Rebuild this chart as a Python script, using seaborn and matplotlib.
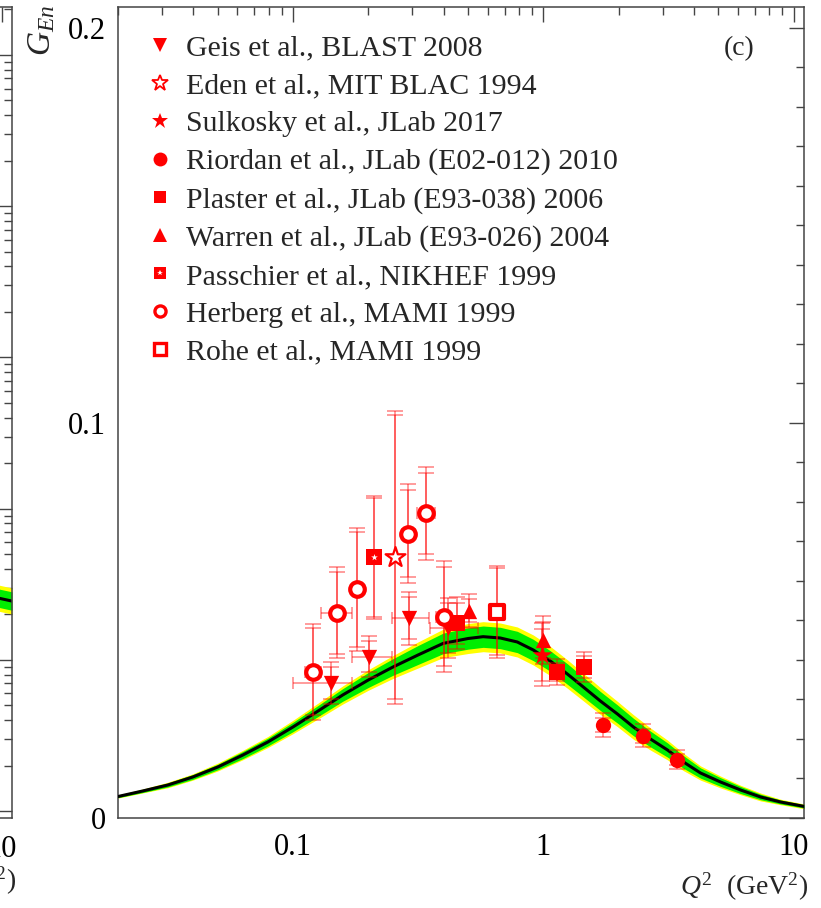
import numpy as np
import pandas as pd
import matplotlib
matplotlib.use("Agg")
import matplotlib.pyplot as plt
import seaborn as sns
from matplotlib.lines import Line2D
from matplotlib.ticker import FixedLocator, NullFormatter, FixedFormatter, LogLocator

# ---------------- data ----------------
curve_q2 = [0.02, 0.0251, 0.0316, 0.0398, 0.0501, 0.0631, 0.0794, 0.100, 0.126, 0.158,
            0.200, 0.251, 0.316, 0.398, 0.501, 0.575, 0.673, 0.787, 0.912, 1.066,
            1.247, 1.445, 1.690, 1.977, 2.291, 2.679, 3.133, 3.631, 4.246, 5.105,
            6.138, 7.379, 8.872, 11.07]
curve_g = [0.00544, 0.00684, 0.00835, 0.01038, 0.01291, 0.01595, 0.01924, 0.02304, 0.02709, 0.03114,
           0.03494, 0.03823, 0.04127, 0.04420, 0.04544, 0.04590, 0.04557, 0.04456, 0.04253, 0.03975,
           0.03646, 0.03316, 0.02962, 0.02633, 0.02304, 0.02000, 0.01722, 0.01418, 0.01139, 0.00911,
           0.00709, 0.00532, 0.00405, 0.00291]
green_hw = [0.0003, 0.0004, 0.0005, 0.0006, 0.0007, 0.0009, 0.0010, 0.0012, 0.0014, 0.0016,
            0.0019, 0.0021, 0.0024, 0.0026, 0.0027, 0.0027, 0.0027, 0.0027, 0.0027, 0.0026,
            0.0026, 0.0025, 0.0024, 0.0023, 0.0022, 0.0020, 0.0018, 0.0016, 0.0013, 0.0011,
            0.0009, 0.0007, 0.0005, 0.0004]
yellow_hw = [0.0004, 0.0005, 0.0007, 0.0008, 0.0010, 0.0012, 0.0014, 0.0017, 0.0020, 0.0023,
             0.0026, 0.0029, 0.0033, 0.0036, 0.0038, 0.0038, 0.0038, 0.0038, 0.0038, 0.0037,
             0.0036, 0.0035, 0.0034, 0.0032, 0.0031, 0.0028, 0.0025, 0.0022, 0.0018, 0.0015,
             0.0012, 0.0010, 0.0007, 0.0006]

geis_q2 = [0.142, 0.202, 0.292, 0.418]
geis_g = [0.0341, 0.0408, 0.0506, 0.0480]
geis_tot = [0.0053, 0.0052, 0.0067, 0.0076]
geis_stat = [0.0040, 0.0039, 0.0054, 0.0063]
geis_qlo = [0.100, 0.172, 0.248, 0.353]
geis_qhi = [0.172, 0.248, 0.348, 0.550]

eden_q2 = [0.256]
eden_g = [0.0660]
eden_tot = [0.0371]
eden_stat = [0.0360]

sulk_q2 = [0.985]
sulk_g = [0.0413]
sulk_tot = [0.0080]
sulk_stat = [0.0065]

riordan_q2 = [1.73, 2.50, 3.43]
riordan_g = [0.0235, 0.0208, 0.0147]
riordan_tot = [0.0030, 0.0029, 0.0024]
riordan_stat = [0.0018, 0.0017, 0.0014]

plaster_q2 = [0.452, 1.13, 1.45]
plaster_g = [0.0493, 0.0370, 0.0383]
plaster_tot = [0.0066, 0.0033, 0.0038]
plaster_stat = [0.0052, 0.0022, 0.0028]

warren_q2 = [0.503, 1.00]
warren_g = [0.0525, 0.0451]
warren_tot = [0.0042, 0.0060]
warren_stat = [0.0030, 0.0045]

passchier_q2 = [0.211]
passchier_g = [0.0660]
passchier_tot = [0.0155]
passchier_stat = [0.0150]

herberg_q2 = [0.120, 0.150, 0.181, 0.289, 0.340, 0.400]
herberg_g = [0.0370, 0.0520, 0.0579, 0.0720, 0.0771, 0.0510]
herberg_tot = [0.0121, 0.0115, 0.0155, 0.0125, 0.0117, 0.0140]
herberg_stat = [0.0110, 0.0104, 0.0146, 0.0110, 0.0102, 0.0125]
herberg_qlo = [0.1117, 0.130, 0.181, 0.272, 0.312, 0.373]
herberg_qhi = [0.129, 0.172, 0.181, 0.307, 0.370, 0.420]

rohe_q2 = [0.653]
rohe_g = [0.0522]
rohe_tot = [0.0117]
rohe_stat = [0.0110]

# neighbouring (cropped) panel on the left
left_q2 = [8.0, 11.0]
left_g = [2.75e-4, 2.45e-4]
left_green_lo = [2.39e-4, 2.13e-4]
left_green_hi = [3.16e-4, 2.82e-4]
left_yellow_lo = [2.25e-4, 2.01e-4]
left_yellow_hi = [3.36e-4, 2.99e-4]

legend_labels = ["Geis et al., BLAST 2008", "Eden et al., MIT BLAC 1994",
                 "Sulkosky et al., JLab 2017", "Riordan et al., JLab (E02-012) 2010",
                 "Plaster et al., JLab (E93-038) 2006", "Warren et al., JLab (E93-026) 2004",
                 "Passchier et al., NIKHEF 1999", "Herberg et al., MAMI 1999",
                 "Rohe et al., MAMI 1999"]

# ---------------- style ----------------
sns.set_theme(style="white")
plt.rcParams["font.family"] = ["Liberation Serif", "DejaVu Serif"]
plt.rcParams["mathtext.fontset"] = "custom"
plt.rcParams["mathtext.rm"] = "Liberation Serif"
plt.rcParams["mathtext.it"] = "Liberation Serif:italic"
plt.rcParams["axes.edgecolor"] = "#444444"
plt.rcParams["axes.linewidth"] = 1.1

RED = "#ff0000"
ERR = (1.0, 0.0, 0.0, 0.42)
GREEN = "#00ee00"
YELLOW = "#ffff00"

fig = plt.figure(figsize=(8.21, 9.08), dpi=100)
W, H = 821.0, 908.0
ax_w, ax_h = 686 / W, 811 / H
bottom = 90 / H
ax = fig.add_axes([118 / W, bottom, ax_w, ax_h])
ax0 = fig.add_axes([(12 - 686) / W, bottom, ax_w, ax_h])

TICK_FS = 22
LABEL_FS = 20


def style_log_x(a):
    a.set_xscale("log")
    a.set_xlim(0.02, 11.0)
    a.xaxis.set_major_locator(FixedLocator([0.1, 1, 10]))
    a.xaxis.set_major_formatter(FixedFormatter(["0.1", "1", "10"]))
    a.xaxis.set_minor_locator(LogLocator(base=10, subs=np.arange(2, 10), numticks=20))
    a.xaxis.set_minor_formatter(NullFormatter())


# ---------------- left cropped panel ----------------
style_log_x(ax0)
ax0.set_yscale("log")
ax0.set_ylim(10 ** -5.045, 10 ** 0.317)
ax0.yaxis.set_major_locator(LogLocator(base=10, numticks=20))
ax0.yaxis.set_minor_locator(LogLocator(base=10, subs=np.arange(2, 10), numticks=20))
ax0.yaxis.set_major_formatter(NullFormatter())
ax0.yaxis.set_minor_formatter(NullFormatter())
ax0.fill_between(left_q2, left_yellow_lo, left_yellow_hi, color=YELLOW, lw=0)
ax0.fill_between(left_q2, left_green_lo, left_green_hi, color=GREEN, lw=0)
sns.lineplot(x=left_q2, y=left_g, ax=ax0, color="black", lw=2.2)
ax0.tick_params(which="both", direction="in", top=True, right=True, labelsize=TICK_FS,
                colors="#444444", labelcolor="black", pad=12)
ax0.tick_params(which="major", length=10.5, width=1)
ax0.tick_params(which="minor", length=5.5, width=1)
ax0.set_xlabel(r"$Q^2$  (GeV$^2$)", fontsize=LABEL_FS, loc="right")
ax0.xaxis.set_label_coords(1.006, -0.058)

# ---------------- main panel ----------------
style_log_x(ax)
ax.set_ylim(0, 0.2053)
ax.yaxis.set_major_locator(FixedLocator([0, 0.1, 0.2]))
ax.yaxis.set_major_formatter(FixedFormatter(["0", "0.1", "0.2"]))
ax.yaxis.set_minor_locator(FixedLocator(np.arange(0, 0.2051, 0.01)))
ax.tick_params(which="both", direction="in", top=True, right=True, labelsize=TICK_FS,
               colors="#444444", labelcolor="black")
ax.tick_params(which="major", length=10.8, width=1)
ax.tick_params(which="minor", length=5.5, width=1)
ax.tick_params(axis="y", pad=8.5)
ax.tick_params(axis="x", pad=11)

# band and central curve
cq = np.array(curve_q2)
cg = np.array(curve_g)
ax.fill_between(cq, cg - np.array(yellow_hw), cg + np.array(yellow_hw), color=YELLOW, lw=0, zorder=1)
ax.fill_between(cq, cg - np.array(green_hw), cg + np.array(green_hw), color=GREEN, lw=0, zorder=2)
sns.lineplot(x=curve_q2, y=curve_g, ax=ax, color="black", lw=2.2, zorder=3)


def draw_errors(q, g, tot, stat, qlo=None, qhi=None):
    ax.errorbar(q, g, yerr=tot, fmt="none", ecolor=ERR, elinewidth=1.3, capsize=6, capthick=1.3, zorder=4)
    ax.errorbar(q, g, yerr=stat, fmt="none", ecolor=ERR, elinewidth=1.3, capsize=6, capthick=1.3, zorder=4)
    if qlo is not None:
        q = np.array(q)
        xe = [q - np.array(qlo), np.array(qhi) - q]
        ax.errorbar(q, g, xerr=xe, fmt="none", ecolor=ERR, elinewidth=1.3, capsize=4.5, capthick=1.3, zorder=4)


draw_errors(geis_q2, geis_g, geis_tot, geis_stat, geis_qlo, geis_qhi)
draw_errors(eden_q2, eden_g, eden_tot, eden_stat)
draw_errors(sulk_q2, sulk_g, sulk_tot, sulk_stat)
draw_errors(riordan_q2, riordan_g, riordan_tot, riordan_stat)
draw_errors(plaster_q2, plaster_g, plaster_tot, plaster_stat)
draw_errors(warren_q2, warren_g, warren_tot, warren_stat)
draw_errors(passchier_q2, passchier_g, passchier_tot, passchier_stat)
draw_errors(herberg_q2, herberg_g, herberg_tot, herberg_stat, herberg_qlo, herberg_qhi)
draw_errors(rohe_q2, rohe_g, rohe_tot, rohe_stat)


def pts(q, g, marker, size, face=RED, edge=RED, lw=0, z=5):
    sns.scatterplot(x=q, y=g, ax=ax, marker=marker, s=size ** 2, color=face,
                    edgecolor=edge, linewidth=lw, zorder=z, legend=False)


pts(geis_q2, geis_g, "v", 11)
pts(eden_q2, eden_g, "*", 15, face="white", lw=1.6)
pts(sulk_q2, sulk_g, "*", 15)
pts(riordan_q2, riordan_g, "o", 11)
pts(plaster_q2, plaster_g, "s", 11)
pts(warren_q2, warren_g, "^", 11)
pts(passchier_q2, passchier_g, "s", 11)
pts(passchier_q2, passchier_g, "*", 5, face="white", edge="white", z=6)
pts(herberg_q2, herberg_g, "o", 10.5, face="white", lw=3)
pts(rohe_q2, rohe_g, "s", 10, face="white", lw=3)

ax.set_ylabel(r"$G_{En}$", fontsize=24, loc="top", labelpad=0)
ax.yaxis.set_label_coords(-0.088, 1.003)
ax.set_xlabel(r"$Q^2$  (GeV$^2$)", fontsize=LABEL_FS, loc="right")
ax.xaxis.set_label_coords(1.006, -0.065)
ax.text(0.905, 0.949, "(c)", transform=ax.transAxes, fontsize=20, ha="center", va="center")


# legend
def h(marker, ms, mfc=RED, mec=RED, mew=0):
    return Line2D([], [], ls="none", marker=marker, ms=ms, mfc=mfc, mec=mec, mew=mew)


handles = [
    h("v", 10),
    h("*", 12, mfc="white", mew=1.3),
    h("*", 12),
    h("o", 10),
    h("s", 9),
    h("^", 10),
    (h("s", 9), h("*", 4, mfc="white", mec="white")),
    h("o", 8, mfc="white", mew=2.4),
    h("s", 8, mfc="white", mew=2.4),
]
leg = ax.legend(handles, legend_labels, loc="upper left", bbox_to_anchor=(0.0222, 0.981),
                frameon=False, fontsize=21.5, handlelength=0.98, handletextpad=0.38,
                labelspacing=0.37, borderaxespad=0)

fig.savefig("out.png", dpi=100)
